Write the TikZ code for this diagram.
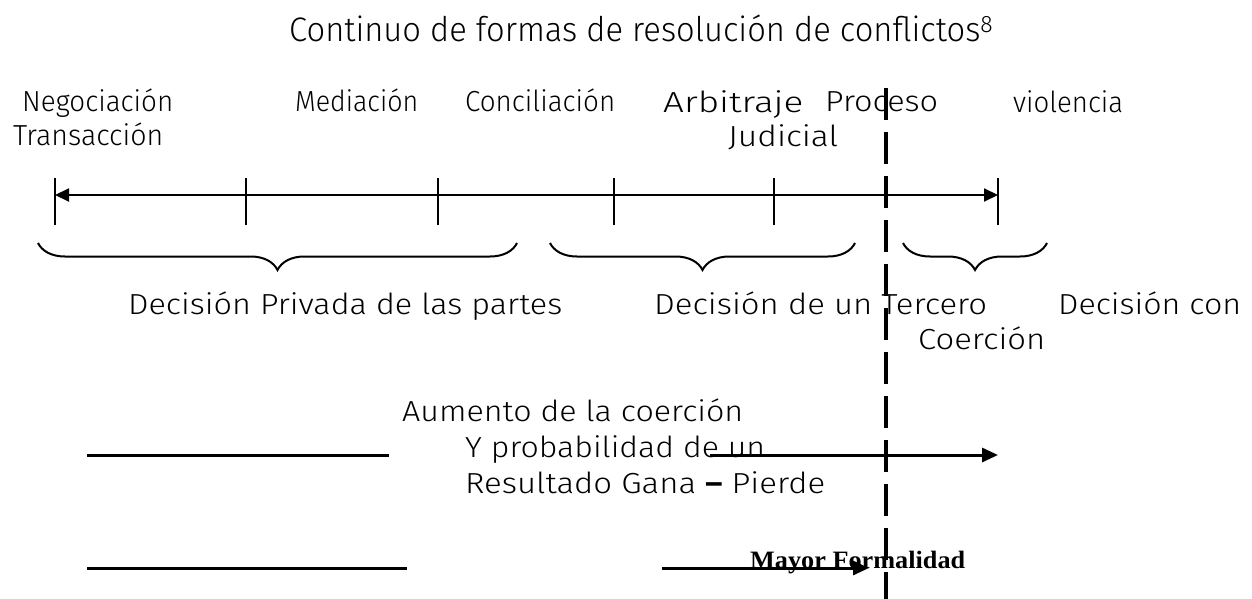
\documentclass[tikz,border=0pt]{standalone}
\usepackage{fontspec}
\usepackage{graphicx}
\setmainfont{Fira Sans}[UprightFont=* Light, BoldFont=* Bold]
\newfontfamily\serifbold{Liberation Serif}
\usetikzlibrary{arrows.meta,decorations.pathreplacing}
% stretch a text horizontally to a given width (in px), keeping its height
\newcommand\fitw[2]{\resizebox{#1pt}{\height}{#2}}
\tikzset{
  lbl/.style={anchor=base west, inner sep=0pt, font=\fontsize{29}{32}\selectfont},
  ttl/.style={anchor=base west, inner sep=0pt, font=\fontsize{34}{38}\selectfont},
  frm/.style={anchor=base west, inner sep=0pt, font=\serifbold\bfseries\fontsize{25}{28}\selectfont},
  axis/.style={line width=2pt, {Triangle[length=14pt,width=13pt]}-{Triangle[length=14pt,width=13pt]}},
  tick/.style={line width=2pt},
  brc/.style={line width=2pt, decorate, decoration={brace, mirror, amplitude=27pt}},
  bar/.style={line width=3pt},
  barrow/.style={line width=3pt, -{Triangle[length=16pt,width=14pt]}},
  sep/.style={line width=4pt, dash pattern=on 32pt off 12pt}
}
\begin{document}
\begin{tikzpicture}[x=1pt,y=-1pt]
\useasboundingbox (0,0) rectangle (1252,599);
% title
\node[ttl] (title) at (289,42) {\fitw{704}{Continuo de formas de resolución de conflictos\textsuperscript{8}}};
% method labels
\node[lbl] (neg) at (22,112) {\fitw{151}{Negociación}};
\node[lbl] (tra) at (13,146) {\fitw{150}{Transacción}};
\node[lbl] (med) at (295,112) {\fitw{123}{Mediación}};
\node[lbl] (con) at (465,112) {\fitw{150}{Conciliación}};
\node[lbl] (arb) at (663,112) {\fitw{140}{Arbitraje}};
\node[lbl] (pro) at (825,112) {\fitw{113}{Proceso}};
\node[lbl] (jud) at (728,146) {\fitw{110}{Judicial}};
\node[lbl] (vio) at (1013,112) {\fitw{110}{violencia}};
% timeline
\coordinate (t0) at (55,195);
\coordinate (t1) at (246,195);
\coordinate (t2) at (438,195);
\coordinate (t3) at (614,195);
\coordinate (t4) at (774,195);
\coordinate (t5) at (998,195);
\draw[axis] (t0) -- (t5);
\foreach \t in {t0,t1,t2,t3,t4,t5}
  \draw[tick] ([yshift=-30pt]\t) -- ([yshift=17pt]\t);
% braces
\coordinate (b1a) at (38,243);
\coordinate (b1b) at (517,243);
\coordinate (b2a) at (550,243);
\coordinate (b2b) at (855,243);
\coordinate (b3a) at (903,243);
\coordinate (b3b) at (1047,243);
\draw[brc] (b1a) -- (b1b);
\draw[brc] (b2a) -- (b2b);
\draw[brc] (b3a) -- (b3b);
% decision labels
\node[lbl] (dpriv) at (128,314) {\fitw{434}{Decisión Privada de las partes}};
\node[lbl] (dter) at (654,314) {\fitw{333}{Decisión de un Tercero}};
\node[lbl] (dcon) at (1058,314) {\fitw{183}{Decisión con}};
\node[lbl] (coe) at (918,349) {\fitw{127}{Coerción}};
% coercion
\node[lbl] (aum) at (402,421) {\fitw{341}{Aumento de la coerción}};
\node[lbl] (yprob) at (465,457) {\fitw{300}{Y probabilidad de un}};
\node[lbl] (res) at (465,493) {\fitw{360}{Resultado Gana \textbf{–} Pierde}};
\coordinate (l1a) at (87,455);
\coordinate (l1b) at (389,455);
\coordinate (l1c) at (710,455);
\coordinate (l1d) at (998,455);
\draw[bar] (l1a) -- (l1b);
\draw[barrow] (l1c) -- (l1d);
% formality
\node[frm] (may) at (750,568) {\fitw{215}{Mayor Formalidad}};
\coordinate (l2a) at (87,568);
\coordinate (l2b) at (407,568);
\coordinate (l2c) at (662,568);
\coordinate (l2d) at (869,568);
\draw[bar] (l2a) -- (l2b);
\draw[barrow] (l2c) -- (l2d);
% dashed separator
\coordinate (sTop) at (886,88);
\coordinate (sBot) at (886,599);
\draw[sep] (sTop) -- (sBot);
\end{tikzpicture}
\end{document}
